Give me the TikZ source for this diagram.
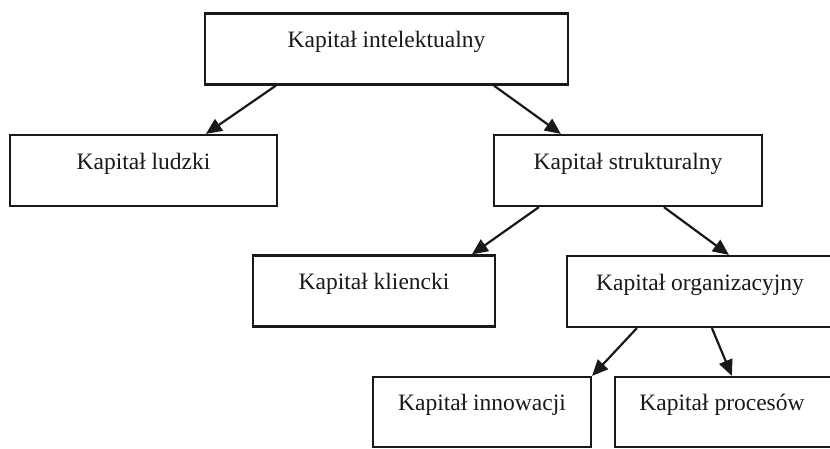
\documentclass[tikz,border=0pt]{standalone}
\usepackage{fontspec}
\setmainfont{Liberation Serif}
\usetikzlibrary{arrows.meta}
\begin{document}
\begin{tikzpicture}[x=1pt,y=-1pt,
  box/.style={draw=black!90,line width=2.2pt,rectangle,inner xsep=0pt,inner ysep=0pt,
    text height=34pt,text depth=37pt,align=center,
    font=\fontsize{23.5}{28}\selectfont,text=black!90},
  arr/.style={draw=black!90,line width=2.2pt,-{Triangle[length=16pt,width=14pt]}}]
\useasboundingbox (0,0) rectangle (830,448);
\fill[white] (0,0) rectangle (830,448);
\clip (0,0) rectangle (830,448);
\node[box,minimum width=363pt] (b1) at (386.5,49) {Kapitał intelektualny};
\node[box,minimum width=267pt] (b2) at (143.5,170.5) {Kapitał ludzki};
\node[box,minimum width=268pt] (b3) at (628,170.5) {Kapitał strukturalny};
\node[box,minimum width=242pt] (b4) at (374,291) {Kapitał kliencki};
\node[box,minimum width=266pt] (b5) at (700,291.5) {Kapitał organizacyjny};
\node[box,minimum width=218pt,text height=33pt,text depth=37pt] (b6) at (482,412) {Kapitał innowacji};
\node[box,minimum width=240pt,text height=33pt,text depth=37pt] (b7) at (735,412) {\hspace*{-26pt}Kapitał procesów};
\draw[arr] ([xshift=72pt]b1.south west) -- ([xshift=197pt]b2.north west);
\draw[arr] ([xshift=290pt]b1.south west) -- ([xshift=68pt]b3.north west);
\draw[arr] ([xshift=46pt]b3.south west) -- ([xshift=220pt]b4.north west);
\draw[arr] ([xshift=171pt]b3.south west) -- ([xshift=163pt]b5.north west);
\draw[arr] ([xshift=71pt]b5.south west) -- (b6.north east);
\draw[arr] ([xshift=146pt]b5.south west) -- ([xshift=118pt]b7.north west);
\end{tikzpicture}
\end{document}
